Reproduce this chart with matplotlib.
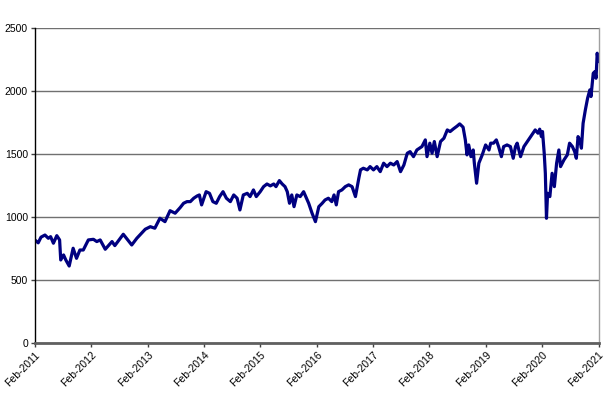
import matplotlib
matplotlib.use("Agg")
import matplotlib.pyplot as plt
import numpy as np

# decimal-year positions and index values
years = [2011.08, 2011.14, 2011.19, 2011.26, 2011.32, 2011.36, 2011.41, 2011.47, 2011.52, 2011.54,
         2011.59, 2011.63, 2011.69, 2011.76, 2011.82, 2011.88, 2011.94, 2012.03, 2012.12, 2012.18,
         2012.24, 2012.33, 2012.45, 2012.50, 2012.65, 2012.80, 2012.89, 2013.04, 2013.13, 2013.21,
         2013.30, 2013.39, 2013.48, 2013.57, 2013.66, 2013.72, 2013.78, 2013.84, 2013.90, 2013.96,
         2014.00, 2014.04, 2014.12, 2014.18, 2014.24, 2014.30, 2014.36, 2014.42, 2014.48, 2014.55,
         2014.61, 2014.67, 2014.72, 2014.78, 2014.85, 2014.90, 2014.96, 2015.01, 2015.08, 2015.14,
         2015.20, 2015.26, 2015.32, 2015.36, 2015.42, 2015.47, 2015.52, 2015.56, 2015.60, 2015.64,
         2015.68, 2015.73, 2015.79, 2015.85, 2015.90, 2015.94, 2016.00, 2016.06, 2016.12, 2016.18,
         2016.23, 2016.29, 2016.35, 2016.39, 2016.43, 2016.47, 2016.53, 2016.59, 2016.65, 2016.71,
         2016.77, 2016.83, 2016.86, 2016.91, 2016.98, 2017.03, 2017.09, 2017.15, 2017.21, 2017.27,
         2017.33, 2017.39, 2017.45, 2017.51, 2017.57, 2017.63, 2017.69, 2017.74, 2017.80, 2017.86,
         2017.95, 2018.01, 2018.04, 2018.09, 2018.13, 2018.17, 2018.22, 2018.28, 2018.34, 2018.40,
         2018.45, 2018.51, 2018.57, 2018.62, 2018.68, 2018.72, 2018.75, 2018.78, 2018.82, 2018.86,
         2018.88, 2018.92, 2018.96, 2019.02, 2019.08, 2019.14, 2019.17, 2019.22, 2019.27, 2019.31,
         2019.36, 2019.40, 2019.46, 2019.52, 2019.57, 2019.61, 2019.64, 2019.70, 2019.76, 2019.82,
         2019.88, 2019.92, 2019.96, 2020.01, 2020.04, 2020.07, 2020.09, 2020.12, 2020.14, 2020.16,
         2020.18, 2020.22, 2020.26, 2020.30, 2020.34, 2020.38, 2020.41, 2020.47, 2020.53, 2020.57,
         2020.62, 2020.66, 2020.69, 2020.72, 2020.75, 2020.78, 2020.81, 2020.85, 2020.89, 2020.93,
         2020.95, 2020.99, 2021.02, 2021.04, 2021.06, 2021.08]

values = [818, 795, 840, 857, 831, 844, 792, 852, 818, 659,
          699, 659, 611, 752, 672, 738, 738, 818, 823, 805,
          818, 744, 805, 773, 863, 778, 831, 903, 923, 911,
          990, 963, 1050, 1030, 1075, 1109, 1122, 1122, 1149, 1167,
          1175, 1096, 1201, 1188, 1122, 1109, 1162, 1201, 1149, 1122,
          1175, 1149, 1056, 1175, 1188, 1162, 1215, 1162, 1201, 1241,
          1262, 1247, 1262, 1241, 1289, 1262, 1241, 1201, 1109, 1175,
          1082, 1175, 1162, 1201, 1149, 1109, 1030, 963, 1082, 1109,
          1135, 1149, 1122, 1175, 1096, 1201, 1215, 1241, 1255, 1241,
          1162, 1308, 1374, 1387, 1374, 1400, 1374, 1400, 1360, 1427,
          1400, 1427, 1413, 1440, 1360, 1413, 1506, 1519, 1479, 1532,
          1559, 1612, 1479, 1586, 1506, 1599, 1479, 1599, 1625, 1691,
          1678, 1700, 1720, 1739, 1713, 1612, 1493, 1572, 1479, 1532,
          1427, 1268, 1427, 1493, 1572, 1532, 1586, 1586, 1612, 1559,
          1479, 1559, 1572, 1559, 1466, 1559, 1586, 1479, 1559, 1599,
          1638, 1665, 1691, 1665, 1697, 1638, 1678, 1506, 1347, 990,
          1188, 1162, 1347, 1241, 1427, 1532, 1400, 1453, 1493, 1586,
          1559, 1519, 1466, 1638, 1612, 1546, 1744, 1850, 1943, 2009,
          1956, 2141, 2154, 2101, 2300, 2234]

tick_years = list(range(2011, 2022))
tick_labels = [f"Feb-{y}" for y in tick_years]
y_ticks = [0, 500, 1000, 1500, 2000, 2500]

plt.rcParams['font.family'] = ['Liberation Sans', 'DejaVu Sans']

fig = plt.figure(figsize=(6.13, 3.98), dpi=100)
ax = fig.add_axes([35 / 613, 55 / 398, (598.5 - 35) / 613, (343 - 28) / 398])

ax.plot(years, values, color='#000080', linewidth=2.3, solid_joinstyle='round')

xt = [y + 1 / 12 for y in tick_years]
ax.set_xlim(xt[0], xt[-1])
ax.set_ylim(0, 2500)
ax.set_xticks(xt)
ax.set_xticklabels(tick_labels, rotation=45, ha='right', va='top',
                   rotation_mode='anchor', fontsize=7.5)
ax.set_yticks(y_ticks)
ax.set_yticklabels([str(v) for v in y_ticks], fontsize=7.5)

ax.grid(axis='y', color='#707070', linewidth=1.0)
ax.set_axisbelow(True)

ax.spines['left'].set_color('black')
ax.spines['left'].set_linewidth(1.0)
ax.spines['bottom'].set_color('#606060')
ax.spines['bottom'].set_linewidth(2.0)
ax.spines['right'].set_color('#a0a0a0')
ax.spines['right'].set_linewidth(1.0)
ax.spines['top'].set_visible(False)

ax.tick_params(axis='both', direction='out', length=3, width=1, color='#404040',
               pad=2, labelcolor='black')

fig.savefig('out.png', dpi=100, facecolor='white')
